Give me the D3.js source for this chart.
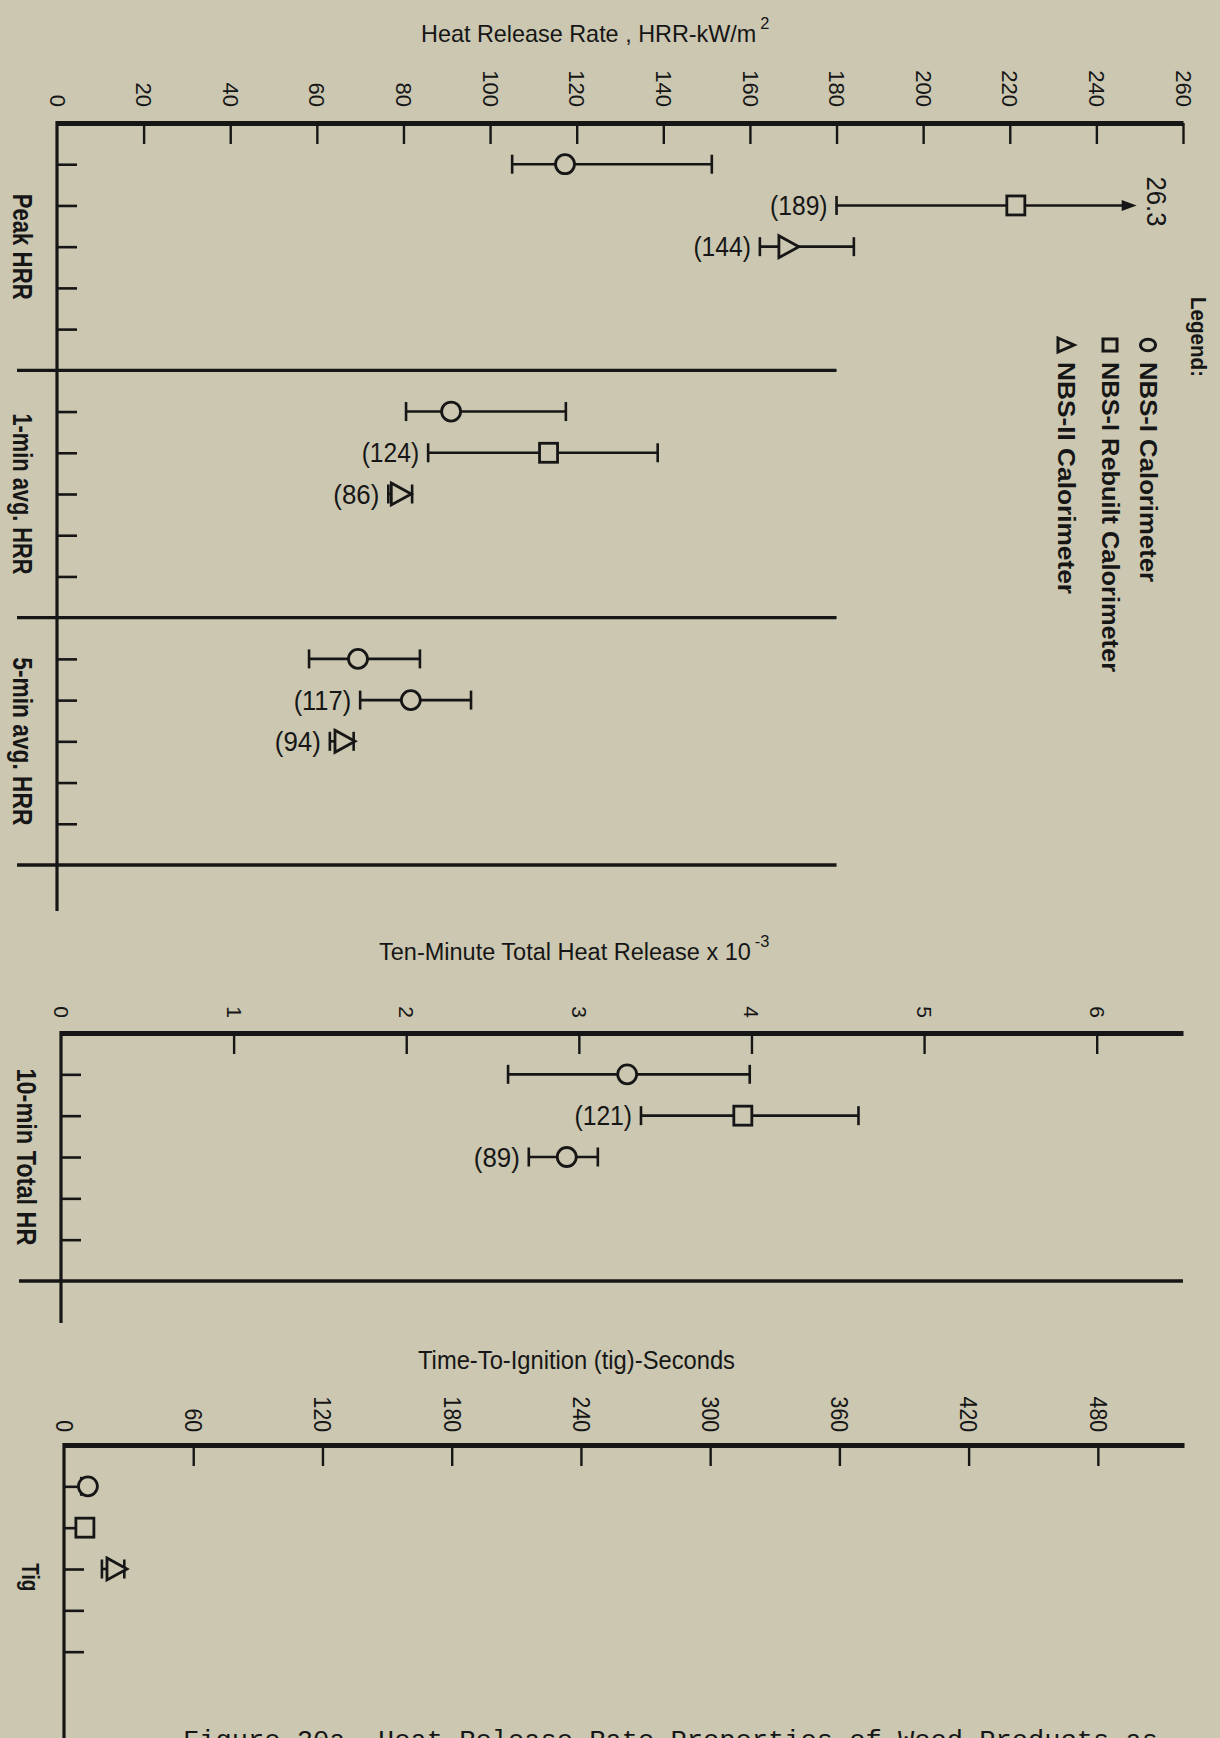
<!DOCTYPE html>
<html>
<head>
<meta charset="utf-8">
<script src="https://cdn.jsdelivr.net/npm/d3@7"></script>
<style>
  html, body { margin: 0; padding: 0; background: #cbc7b1; }
  svg { display: block; }
  text { fill: #161616; font-family: "Liberation Sans", Arial, sans-serif; }
</style>
</head>
<body>
<svg id="fig" width="1220" height="1738"></svg>
<script>
// ---------- tick labels ----------
const hrrTicks = [0, 20, 40, 60, 80, 100, 120, 140, 160, 180, 200, 220, 240, 260];
const thrTicks = [0, 1, 2, 3, 4, 5, 6];
const tigTicks = [0, 60, 120, 180, 240, 300, 360, 420, 480];

// ---------- legend ----------
const legendLabels = ["NBS-I Calorimeter", "NBS-I Rebuilt Calorimeter", "NBS-II Calorimeter"];
const legendShapes = ["circle", "square", "triangle"];

// ---------- heat release rate, kW/m2 ----------
const hrrGroups = ["Peak HRR", "1-min avg. HRR", "5-min avg. HRR"];

const peakMean  = [117.3, 221.4, 169.0];
const peakLow   = [105.1, 180.0, 162.3];
const peakHigh  = [151.2, 249.3, 184.0];
const peakShape = ["circle", "square", "triangle"];
const peakCount = ["", "(189)", "(144)"];
const peakOver  = ["", "26.3", ""];

const min1Mean  = [91.0, 113.5, 79.5];
const min1Low   = [80.6, 85.7, 76.5];
const min1High  = [117.5, 138.7, 82.0];
const min1Shape = ["circle", "square", "triangle"];
const min1Count = ["", "(124)", "(86)"];

const min5Mean  = [69.5, 81.7, 66.5];
const min5Low   = [58.2, 70.0, 63.0];
const min5High  = [83.8, 95.6, 68.5];
const min5Shape = ["circle", "circle", "triangle"];
const min5Count = ["", "(117)", "(94)"];

// ---------- ten-minute total heat release (x 10^-3) ----------
const thrGroup = "10-min Total HR";
const thrMean  = [3.28, 3.95, 2.93];
const thrLow   = [2.59, 3.36, 2.71];
const thrHigh  = [3.99, 4.62, 3.11];
const thrShape = ["circle", "square", "circle"];
const thrCount = ["", "(121)", "(89)"];

// ---------- time to ignition, s ----------
const tigGroup = "Tig";
const tigMean  = [11.1, 9.7, 24.6];
const tigLow   = [8.0, 8.0, 17.6];
const tigHigh  = [12.5, 10.5, 28.0];
const tigShape = ["circle", "square", "triangle"];

// ---------- drawing ----------
const INK = "#161616";
const PAPER = "#cbc7b1";
const svg = d3.select("#fig");

svg.append("rect").attr("width", 1220).attr("height", 1738).attr("fill", PAPER);

function fit(sel, len) {
  return sel.attr("textLength", len).attr("lengthAdjust", "spacingAndGlyphs");
}

// text turned a quarter clockwise (reads top to bottom)
function vText(x, y, str, opts) {
  const t = svg.append("text")
    .attr("transform", `translate(${x},${y}) rotate(90)`)
    .attr("text-anchor", opts.anchor || "middle")
    .attr("dy", opts.dy == null ? "0.35em" : opts.dy)
    .style("font-size", opts.size + "px")
    .style("font-weight", opts.weight || "normal")
    .text(str);
  if (opts.len) fit(t, opts.len);
  return t;
}

function marker(g, shape, cx, cy) {
  const sw = 2.8;
  if (shape === "circle") {
    g.append("circle").attr("cx", cx).attr("cy", cy).attr("r", 9.5)
      .attr("fill", PAPER).attr("stroke", INK).attr("stroke-width", sw);
  } else if (shape === "square") {
    g.append("rect").attr("x", cx - 9).attr("y", cy - 9.5).attr("width", 18).attr("height", 19)
      .attr("fill", PAPER).attr("stroke", INK).attr("stroke-width", sw);
  } else {
    const w = 20, h = 22;
    g.append("path")
      .attr("d", `M${cx - w / 2},${cy - h / 2}L${cx + w / 2},${cy}L${cx - w / 2},${cy + h / 2}Z`)
      .attr("fill", PAPER).attr("stroke", INK).attr("stroke-width", sw)
      .attr("stroke-linejoin", "miter");
  }
}

// one mean with its range bar, optional count label and off-scale arrow
function errorRow(g, x, y, mean, low, high, shape, count, over) {
  const yy = y;
  const xl = x(low), xh = x(high), xm = x(mean);
  g.append("line").attr("x1", xl).attr("x2", over ? xh - 12 : xh).attr("y1", yy).attr("y2", yy)
    .attr("stroke", INK).attr("stroke-width", 2.6);
  g.append("line").attr("x1", xl).attr("x2", xl).attr("y1", yy - 9.5).attr("y2", yy + 9.5)
    .attr("stroke", INK).attr("stroke-width", 2.6);
  if (over) {
    g.append("path")
      .attr("d", `M${xh - 15},${yy - 5.5}L${xh},${yy}L${xh - 15},${yy + 5.5}Z`)
      .attr("fill", INK);
    vText(xh + 20, yy - 4, over, { size: 28, len: 50 });
  } else {
    g.append("line").attr("x1", xh).attr("x2", xh).attr("y1", yy - 9.5).attr("y2", yy + 9.5)
      .attr("stroke", INK).attr("stroke-width", 2.6);
  }
  marker(g, shape, xm, yy);
  if (count) {
    fit(g.append("text")
      .attr("x", xl - 9).attr("y", yy).attr("dy", "0.36em")
      .attr("text-anchor", "end")
      .style("font-size", "27px")
      .text(count), count.length * 11.5);
  }
}

// value axis along the top with ticks pointing down and turned labels
function valueAxis(x, y0, ticks, labelGap, fontSize, digitW) {
  const g = svg.append("g").attr("transform", `translate(0,${y0})`);
  g.call(d3.axisTop(x).tickValues(ticks).tickFormat(d => String(d))
    .tickSizeInner(-21).tickSizeOuter(0).tickPadding(labelGap));
  g.select(".domain").attr("stroke", INK).attr("stroke-width", 5).attr("fill", "none");
  g.selectAll(".tick line").attr("stroke", INK).attr("stroke-width", 2.4);
  g.selectAll(".tick text")
    .attr("x", -labelGap).attr("y", 0).attr("dy", "0.36em")
    .attr("transform", "rotate(90)")
    .attr("text-anchor", "end")
    .attr("fill", INK)
    .style("font-size", fontSize + "px")
    .style("font-family", "'Liberation Sans', Arial, sans-serif")
    .each(function () {
      if (digitW) fit(d3.select(this), digitW * this.textContent.length);
    });
  g.selectAll(".tick").filter(d => d === 0).select("line").remove();
  return g;
}

// category axis down the left edge with short ticks
function categoryAxis(xPos, y, tickRows, yEnd) {
  const g = svg.append("g").attr("transform", `translate(${xPos},0)`);
  g.call(d3.axisRight(y).tickValues(tickRows).tickSizeInner(20).tickSizeOuter(0).tickFormat(""));
  g.select(".domain").remove();
  g.selectAll(".tick line").attr("stroke", INK).attr("stroke-width", 2.6);
  svg.append("line").attr("x1", xPos).attr("x2", xPos).attr("y1", y.range()[0] - 2).attr("y2", yEnd)
    .attr("stroke", INK).attr("stroke-width", 3.2);
}

function separator(x1, x2, yv) {
  svg.append("line").attr("x1", x1).attr("x2", x2).attr("y1", yv).attr("y2", yv)
    .attr("stroke", INK).attr("stroke-width", 3.4);
}

// axis title with a raised exponent, kept in one text element
function title(x, y, main, sup, size, rise) {
  const t = svg.append("text").attr("x", x).attr("y", y).style("font-size", size + "px");
  t.append("tspan").text(main);
  t.append("tspan").attr("dx", 4).attr("dy", -rise).style("font-size", (size * 0.7) + "px").text(sup);
}

// ===== panel 1: heat release rate =====
const xA = d3.scaleLinear().domain([0, 260]).range([57, 1183]);
const yA = d3.scaleLinear().domain([0, 18]).range([123, 865]);

title(421, 42, "Heat Release Rate , HRR-kW/m", "2", 23.4, 13);
categoryAxis(57, yA, [1, 2, 3, 4, 5, 7, 8, 9, 10, 11, 13, 14, 15, 16, 17], 911);
[6, 12, 18].forEach(r => separator(17, xA(180), yA(r)));
valueAxis(xA, 123, hrrTicks, 16, 22, null);

const hrrSets = [
  [peakMean, peakLow, peakHigh, peakShape, peakCount, peakOver],
  [min1Mean, min1Low, min1High, min1Shape, min1Count, null],
  [min5Mean, min5Low, min5High, min5Shape, min5Count, null]
];
const gA = svg.append("g");
hrrSets.forEach((s, gi) => {
  s[0].forEach((m, i) => {
    errorRow(gA, xA, yA(gi * 6 + i + 1), m, s[1][i], s[2][i], s[3][i], s[4][i], s[5] ? s[5][i] : "");
  });
});
const hrrLabelLen = [106, 161, 168];
hrrGroups.forEach((name, gi) => vText(23, yA(gi * 6 + 3), name, { size: 28, weight: "bold", len: hrrLabelLen[gi] }));

// legend
const legendX = [1148, 1110, 1066];
vText(1199, 297, "Legend:", { size: 22, weight: "bold", anchor: "start", len: 80 });
const legendLen = [220, 310, 232];
legendShapes.forEach((shape, i) => {
  const cx = legendX[i], cy = 345;
  if (shape === "circle") {
    svg.append("ellipse").attr("cx", cx).attr("cy", cy).attr("rx", 7.6).attr("ry", 5.8)
      .attr("fill", "none").attr("stroke", INK).attr("stroke-width", 3);
  } else if (shape === "square") {
    svg.append("rect").attr("x", cx - 7).attr("y", cy - 6).attr("width", 14).attr("height", 12)
      .attr("fill", "none").attr("stroke", INK).attr("stroke-width", 3);
  } else {
    svg.append("path").attr("d", `M${cx - 8},${cy - 7}L${cx + 8},${cy}L${cx - 8},${cy + 7}Z`)
      .attr("fill", "none").attr("stroke", INK).attr("stroke-width", 3);
  }
  vText(cx, 362, legendLabels[i], { size: 23, weight: "bold", anchor: "start", len: legendLen[i] });
});

// ===== panel 2: ten-minute total heat release =====
const xB = d3.scaleLinear().domain([0, 6.5]).range([61, 1183]);
const yB = d3.scaleLinear().domain([0, 6]).range([1033, 1281]);

title(379, 960, "Ten-Minute Total Heat Release x 10", "-3", 23.5, 13);
categoryAxis(61, yB, [1, 2, 3, 4, 5], 1323);
separator(19, 1183, yB(6));
valueAxis(xB, 1033, thrTicks, 15, 21, null);
const gB = svg.append("g");
thrMean.forEach((m, i) => errorRow(gB, xB, yB(i + 1), m, thrLow[i], thrHigh[i], thrShape[i], thrCount[i], ""));
vText(27, yB(3), thrGroup, { size: 28, weight: "bold", len: 177 });

// ===== panel 3: time to ignition =====
const xC = d3.scaleLinear().domain([0, 520]).range([64, 1184]);
const yC = d3.scaleLinear().domain([0, 6]).range([1445, 1693]);

fit(svg.append("text").attr("x", 418).attr("y", 1369).style("font-size", "26px")
  .text("Time-To-Ignition (tig)-Seconds"), 317);
categoryAxis(64, yC, [1, 2, 3, 4, 5], 1740);
valueAxis(xC, 1445, tigTicks, 13, 24, 11.8);
const gC = svg.append("g");
tigMean.forEach((m, i) => errorRow(gC, xC, yC(i + 1), m, tigLow[i], tigHigh[i], tigShape[i], "", ""));
vText(30, yC(3.2), tigGroup, { size: 23, weight: "bold", len: 28 });

// caption (runs off the bottom edge)
fit(svg.append("text").attr("x", 183).attr("y", 1748)
  .style("font-family", "'Liberation Mono', 'Courier New', monospace").style("font-size", "26px")
  .text("Figure 20a.  Heat Release Rate Properties of Wood Products as"), 975);
</script>
</body>
</html>
